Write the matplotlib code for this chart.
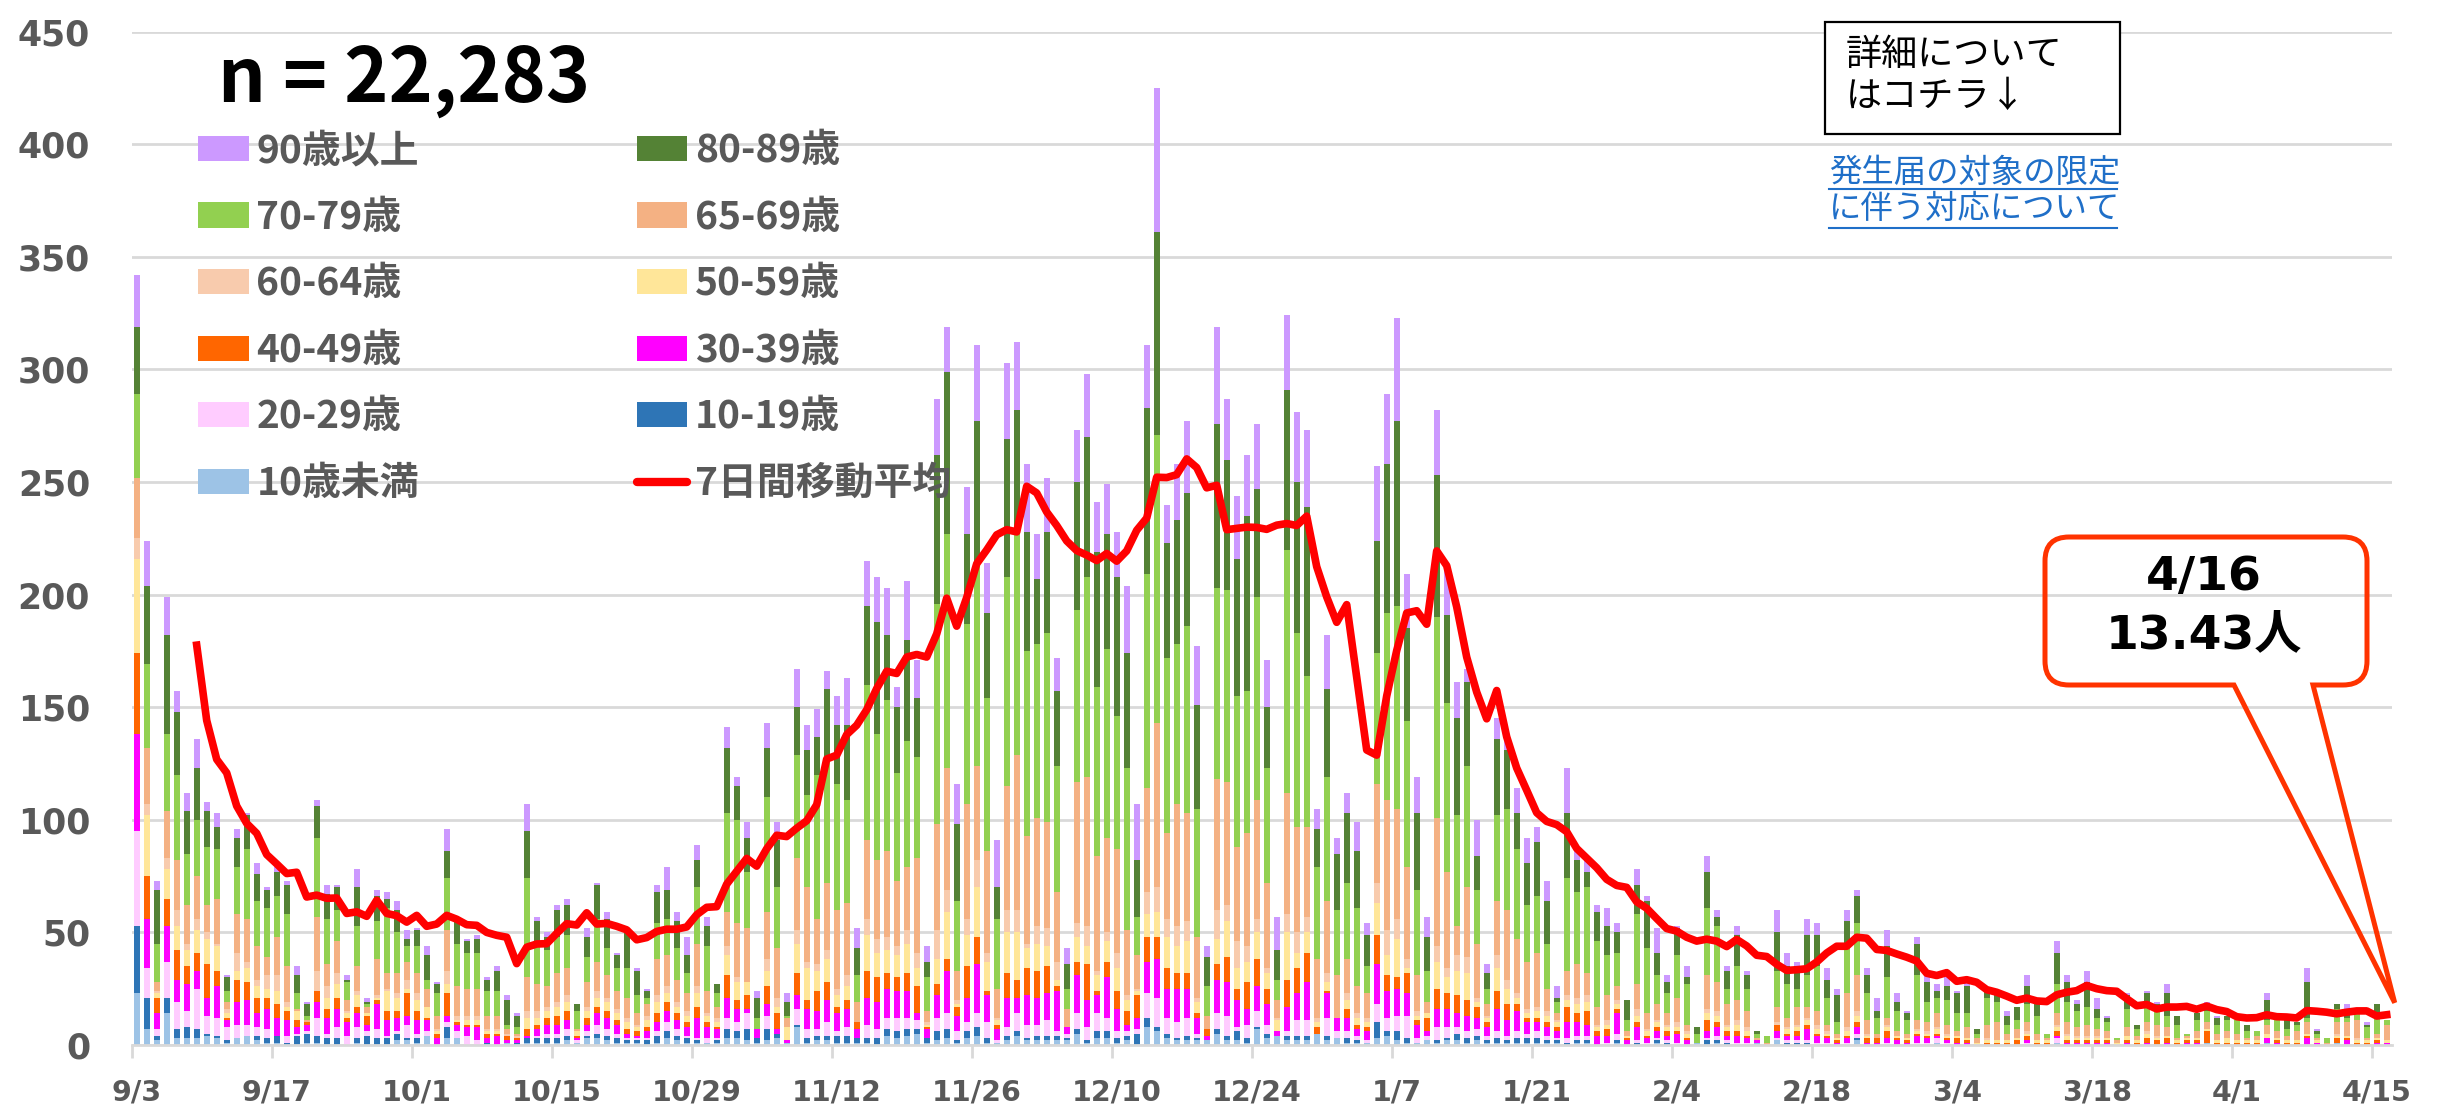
import numpy as np
import pandas as pd
import matplotlib
matplotlib.use("Agg")
import matplotlib.pyplot as plt
from matplotlib.patches import Patch, Rectangle, PathPatch
from matplotlib.lines import Line2D
from matplotlib.path import Path
from matplotlib.transforms import IdentityTransform
from matplotlib.font_manager import FontProperties

# 日付 (9/3 - 4/16)
dates = pd.date_range("2022-09-03", "2023-04-16", freq="D")

# 年代別の新規陽性者数
u10 = [23,7,2,14,3,3,3,4,3,1, 3,4,2,1,1,0,0,1,1,0, 0,0,1,0,0,0,2,2,1,4, 0,3,3,0,0,0,0,1,0,1,
       1,1,1,2,1,3,3,2,1,1, 1,0,1,3,2,1,1,1,1,3, 3,2,1,2,3,1,8,1,2,2, 1,1,1,1,0,4,3,4,5,1,
       2,3,1,3,4,1,1,2,4,2, 2,2,2,2,5,1,3,3,1,2, 0,8,6,3,2,2,2,2,5,2, 2,1,7,3,4,2,2,2,5,2,
       3,1,1,1,3,4,2,1,1,2, 1,2,2,1,2,1,1,1,1,1, 1,1,1,0,1,1,0,0,1,0, 0,0,1,0,0,0,1,0,1,0,
       0,0,1,0,2,0,0,0,0,0, 0,0,2,0,0,0,0,0,0,0, 1,0,0,0,0,0,0,0,0,0, 0,0,1,0,0,0,0,0,0,0,
       0,0,0,0,0,0,0,1,0,0, 0,0,0,1,0,0,0,0,0,0, 1,0,0,0,0,0]
a10 = [30,14,2,7,4,5,4,1,1,1, 0,0,2,2,3,1,4,4,3,3, 3,0,2,4,3,3,3,1,2,0, 0,5,0,0,0,1,0,0,1,2,
       2,2,2,2,0,1,2,2,2,1, 1,2,3,3,2,2,1,0,1,4, 3,5,2,5,2,0,1,2,2,2, 3,3,2,2,3,3,3,3,2,2,
       4,4,1,3,4,2,0,2,2,1, 2,2,2,1,2,1,3,3,2,2, 5,4,2,2,1,2,1,0,2,2, 4,2,1,2,0,2,2,2,0,2,
       0,2,1,0,7,2,4,2,0,0, 1,1,3,2,2,1,2,1,2,2, 2,1,1,1,1,1,0,0,1,0, 1,0,1,1,0,0,0,2,1,1,
       0,0,0,0,0,1,1,1,0,0, 0,0,1,0,0,0,0,0,0,0, 0,0,0,0,0,0,0,0,0,0, 0,0,0,0,0,0,0,0,0,0,
       0,0,0,0,0,0,0,0,0,0, 0,0,0,0,0,0,0,0,0,0, 0,0,0,0,0,0]
a20 = [42,13,3,16,12,7,18,8,8,6, 6,5,4,4,0,3,1,1,8,2, 5,4,5,2,4,1,1,6,2,2, 0,2,3,4,2,0,0,0,0,0,
       1,2,2,3,1,2,4,3,2,1, 1,1,2,4,3,1,1,2,1,5, 4,7,0,6,0,0,7,4,3,6, 2,4,0,6,4,5,6,5,4,0,
       6,7,4,4,6,7,1,4,8,6, 5,7,2,2,7,6,8,6,3,2, 2,11,13,7,7,8,2,0,7,9, 2,6,7,4,0,2,7,7,0,8,
       3,3,2,1,8,6,7,10,2,2, 6,5,3,3,3,2,3,2,3,2, 3,2,1,2,2,2,0,1,3,0, 1,1,1,1,1,0,0,1,2,1,
       1,1,0,0,1,1,1,1,1,1, 0,1,2,0,0,1,0,0,1,1, 2,1,0,0,0,0,0,0,0,1, 0,0,2,0,0,0,0,0,0,0,
       0,0,0,0,0,0,0,0,0,0, 0,0,0,0,0,0,0,0,0,0, 0,0,0,0,0,0]
a30 = [43,22,7,16,10,12,8,8,14,3, 10,11,6,9,8,7,3,3,7,7, 8,6,6,3,11,7,6,4,6,5, 3,3,3,4,6,2,4,1,1,1,
       3,4,4,4,1,3,5,5,4,2, 1,3,4,5,4,4,9,5,4,9, 6,2,4,5,2,1,6,9,8,10, 8,8,4,12,12,13,12,12,3,4,
       10,19,7,11,22,12,5,13,7,13, 12,12,18,3,17,12,8,18,10,3, 5,14,17,13,15,13,7,2,15,15, 12,7,11,9,2,11,12,17,0,11,
       6,6,3,4,18,12,12,10,6,2, 8,8,6,7,5,4,10,7,9,5, 4,4,3,7,6,5,4,3,9,2, 6,2,3,2,4,2,0,3,4,2,
       3,2,1,0,3,2,2,5,3,2, 1,2,3,1,1,2,2,1,3,2, 1,1,1,1,0,0,0,0,0,1, 0,0,1,1,1,1,1,1,0,1,
       0,1,0,1,0,1,1,0,0,0, 0,0,0,2,1,0,0,3,1,0, 0,2,0,0,1,1]
a40 = [36,19,7,12,13,8,8,15,7,1, 10,8,7,5,6,4,3,1,5,4, 5,2,3,4,2,4,3,10,4,1, 2,10,1,1,1,2,1,2,1,3,
       2,3,4,4,1,3,3,3,2,2, 2,2,4,4,3,2,5,2,1,10, 4,6,0,8,7,0,10,4,9,8, 3,4,3,12,11,7,6,8,12,1,
       5,5,4,14,12,2,2,11,8,12, 12,12,2,0,6,16,2,7,8,6, 10,11,10,9,7,7,2,3,7,11, 5,12,12,7,0,12,11,13,3,1,
       0,4,2,2,13,7,5,9,2,6, 9,7,8,7,5,2,8,7,3,2, 2,2,2,7,4,6,2,3,2,1, 2,1,2,2,1,1,0,5,2,2,
       2,1,0,0,3,1,2,2,1,1, 1,1,2,2,2,3,1,1,1,1, 1,1,2,1,0,1,1,1,2,2, 1,1,2,1,1,1,1,1,0,1,
       1,2,2,2,1,1,1,5,1,1, 1,1,1,0,1,1,1,1,0,0, 2,1,1,1,1,0]
a50 = [42,27,2,13,11,7,10,11,11,2, 4,6,5,4,6,2,4,0,0,5, 6,2,5,1,1,9,6,2,5,5, 1,4,1,2,2,1,1,0,0,5,
       3,3,4,4,2,3,4,4,3,3, 2,3,5,4,3,3,6,3,2,9, 8,6,0,7,3,6,13,14,9,10, 5,6,0,16,11,10,10,13,8,1,
       11,21,1,14,22,13,2,18,21,9, 12,9,3,0,11,8,7,9,10,5, 2,10,11,14,12,14,5,0,11,16, 9,9,12,7,5,21,7,9,2,4,
       0,4,3,2,14,9,17,2,2,2, 12,7,11,12,2,2,10,7,3,2, 3,3,2,3,4,4,2,2,2,1, 3,2,2,2,2,2,0,3,3,2,
       3,2,0,0,0,2,2,2,2,1, 1,2,3,1,0,2,1,1,1,1, 2,1,1,1,1,1,1,1,1,1, 1,1,2,2,1,1,1,1,1,2,
       1,2,1,1,1,1,1,1,1,2, 1,1,1,2,1,1,1,1,1,0, 1,1,1,1,1,1]
a60 = [9,5,1,5,7,3,5,3,1,2, 8,3,3,6,7,2,0,0,9,5, 5,1,2,0,1,1,2,4,3,0, 1,6,2,2,2,1,1,1,1,3,
       3,2,2,3,0,2,3,2,2,2, 1,2,3,3,2,2,3,1,2,4, 2,0,0,5,4,0,6,3,3,4, 3,5,0,7,6,6,4,6,7,1,
       13,10,2,7,12,4,1,10,10,2, 8,8,8,0,6,9,2,4,7,2, 1,10,11,8,9,9,2,0,13,7, 12,7,6,2,1,8,9,7,2,4,
       0,3,2,2,9,11,9,4,2,0, 7,4,7,7,2,1,6,4,2,2, 2,2,1,2,3,3,1,2,2,0, 3,1,1,1,2,1,0,2,2,1,
       2,2,0,0,1,1,1,1,2,1, 0,2,2,1,0,1,0,0,1,1, 1,1,0,0,0,1,0,0,0,1, 0,0,1,1,1,1,1,0,0,0,
       0,1,1,0,0,0,0,0,0,0, 0,0,0,0,0,0,0,0,0,0, 1,0,1,0,0,0]
a65 = [27,25,4,21,22,17,19,12,20,3, 17,19,15,8,17,16,1,1,24,10, 14,5,11,3,16,7,9,8,9,8, 6,18,13,12,12,6,6,2,1,15,
       12,9,13,12,1,11,13,10,8,9, 5,5,16,14,10,8,19,10,5,15, 24,24,0,21,22,4,32,33,20,30, 35,32,9,35,35,38,29,28,42,5,
       47,54,13,51,42,45,13,55,69,48, 48,47,31,8,63,66,51,42,46,29, 15,46,73,38,54,48,27,6,58,55, 42,50,53,38,8,54,47,40,26,32,
       19,15,12,11,44,58,49,41,16,5, 57,43,13,31,24,5,24,31,24,21, 24,10,3,11,15,10,8,11,6,2, 11,7,7,5,11,3,0,15,13,9,
       9,7,1,1,7,4,8,5,6,3, 2,15,16,6,2,3,2,2,4,4, 6,4,2,5,2,6,8,3,4,4, 3,1,5,5,4,5,3,3,1,4,
       2,4,5,4,1,1,3,3,3,3, 3,1,2,4,3,2,4,5,1,1, 5,6,8,1,2,7]
a70 = [37,37,17,34,38,23,25,26,22,5, 21,31,20,22,18,23,7,2,35,20, 14,8,18,1,17,29,18,7,12,4, 10,23,19,16,16,11,11,2,3,44,
       18,16,16,15,8,11,19,12,10,13, 8,3,16,16,14,9,25,20,6,44, 46,25,5,51,27,1,46,41,64,56, 56,46,12,69,56,67,48,56,45,15,
       98,104,31,80,89,68,31,93,98,82, 77,84,56,9,76,89,75,84,59,72, 17,95,128,78,71,83,57,13,85,85, 67,63,90,51,9,108,86,67,41,55,
       29,34,35,12,58,83,90,65,38,14, 89,75,49,54,24,7,38,45,40,25, 25,20,5,41,32,38,29,18,15,5, 31,29,13,9,19,18,4,30,25,7,
       15,10,2,3,16,15,8,14,20,12, 5,20,23,12,7,18,9,6,20,9, 7,11,8,6,2,12,9,4,4,8, 8,2,13,9,7,8,5,4,1,8,
       3,7,6,5,6,1,5,5,4,5, 6,3,2,2,6,3,3,2,2,2, 6,2,3,5,9,2]
a80 = [30,35,24,44,28,19,23,16,10,6, 13,15,12,8,11,13,8,5,14,11, 10,1,17,1,11,4,10,3,7,11, 4,12,10,5,6,5,9,11,5,21,
       10,6,12,13,3,9,15,13,6,17, 11,3,14,13,12,8,12,9,4,29, 15,15,9,22,21,6,21,20,17,30, 26,33,12,35,50,29,29,45,26,7,
       66,72,34,40,64,38,14,61,55,53, 29,45,33,11,57,62,60,51,62,51, 25,74,90,51,55,59,46,13,73,58, 61,78,48,27,13,71,67,75,17,39,
       25,31,25,14,50,66,82,41,34,15, 63,39,43,37,15,7,34,26,16,19, 24,19,2,29,14,7,13,13,9,9, 13,21,10,5,12,3,3,16,4,8,
       14,6,1,0,17,8,10,18,14,8, 12,12,12,8,3,14,4,3,14,9, 3,6,9,12,2,3,4,4,6,8, 5,0,14,9,3,11,4,2,0,6,
       2,6,3,10,4,0,3,3,3,2, 0,3,0,9,1,5,1,16,1,0, 2,4,2,1,4,0]
a90 = [23,20,4,17,9,8,13,4,6,1, 4,1,5,1,2,2,4,1,3,4, 1,2,8,2,3,3,4,4,1,4, 1,10,1,1,2,1,2,2,1,12,
       2,2,2,3,0,4,1,3,1,0, 1,1,3,10,4,8,7,4,0,9, 4,7,3,11,8,4,17,11,12,8, 13,21,9,20,20,21,9,26,17,7,
       25,20,18,21,34,22,21,34,30,30, 20,24,15,7,23,28,22,22,20,30, 25,28,64,17,25,32,26,5,43,27, 28,27,29,21,15,33,31,34,9,24,
       7,9,13,5,33,31,46,24,16,9, 29,20,16,6,16,4,9,7,11,11, 7,9,5,20,4,7,3,8,4,0, 7,2,11,3,1,5,0,7,3,2,
       4,2,0,0,10,6,2,7,5,5, 3,5,3,3,6,7,4,1,3,3, 3,4,1,2,0,1,0,2,0,5, 1,0,5,3,2,5,5,1,0,1,
       0,1,1,4,0,0,0,1,1,0, 0,0,0,3,0,0,0,6,1,0, 0,2,0,1,0,0]

groups = ["10歳未満", "10-19歳", "20-29歳", "30-39歳", "40-49歳", "50-59歳",
          "60-64歳", "65-69歳", "70-79歳", "80-89歳", "90歳以上"]
series = [u10, a10, a20, a30, a40, a50, a60, a65, a70, a80, a90]
colors = ["#9DC3E6", "#2E75B6", "#FFCCFF", "#FF00FF", "#FF6600", "#FFE699",
          "#F8CBAD", "#F4B183", "#92D050", "#548235", "#CC99FF"]

for s in series:
    assert len(s) == len(dates), len(s)

df = pd.DataFrame(dict(zip(groups, series)), index=dates)
total = df.sum(axis=1)
ma7 = total.rolling(7).mean()

W, H = 2438, 1114
fig = plt.figure(figsize=(W / 100, H / 100), dpi=100)
ax = fig.add_axes([131.7 / W, (H - 1045) / H, 2260 / W, (1045 - 31.7) / H])

x = np.arange(len(dates))
bottom = np.zeros(len(dates))
for g, c in zip(groups, colors):
    ax.bar(x, df[g].values, bottom=bottom, width=0.6, color=c, linewidth=0, zorder=2)
    bottom += df[g].values

ax.plot(x, ma7.values, color="#FF0000", lw=5.5, solid_joinstyle="round", zorder=4)

ax.set_xlim(-0.5, len(dates) - 0.5)
ax.set_ylim(0, 450)
ax.set_yticks(range(0, 451, 50))
ax.grid(axis="y", color="#D9D9D9", lw=2)
ax.set_axisbelow(True)

gray = "#595959"
for side in ["left", "right", "top"]:
    ax.spines[side].set_visible(False)
ax.spines["bottom"].set_color("#D9D9D9")
ax.spines["bottom"].set_linewidth(2)

lab_idx = list(range(0, len(dates), 14))
ax.set_xticks(lab_idx)
ax.set_xticklabels([f"{dates[i].month}/{dates[i].day}" for i in lab_idx])
ax.set_xticks([i - 0.5 for i in lab_idx], minor=True)
ax.tick_params(axis="x", which="major", length=0, pad=24, labelsize=20.5, labelcolor=gray)
ax.tick_params(axis="x", which="minor", length=9, width=2, color="#D9D9D9")
ax.tick_params(axis="y", length=0, pad=30, labelsize=25, labelcolor=gray)
for t in ax.get_xticklabels() + ax.get_yticklabels():
    t.set_fontweight("bold")
    t.set_family("DejaVu Sans")

# 凡例
handles = {g: Patch(facecolor=c, edgecolor="none") for g, c in zip(groups, colors)}
ma_handle = Line2D([], [], color="#FF0000", lw=6, solid_capstyle="round")
order1 = ["90歳以上", "70-79歳", "60-64歳", "40-49歳", "20-29歳", "10歳未満"]
order2 = ["80-89歳", "65-69歳", "50-59歳", "30-39歳", "10-19歳"]
leg_h = [handles[g] for g in order1] + [handles[g] for g in order2] + [ma_handle]
leg_l = order1 + order2 + ["7日間移動平均"]
lp = FontProperties(family=["Noto Sans CJK JP", "DejaVu Sans"], weight="bold", size=28)
leg = ax.legend(leg_h, leg_l, ncol=2, loc="upper left", bbox_to_anchor=(198 / W, 1 - 131 / H),
                bbox_transform=fig.transFigure, frameon=False, prop=lp, labelcolor=gray,
                handlelength=1.3, handleheight=0.62, handletextpad=0.2, labelspacing=0.71,
                columnspacing=5.6, borderpad=0, borderaxespad=0)
leg.set_zorder(5)

jp = ["Noto Sans CJK JP", "DejaVu Sans"]
fig.text(218 / W, 1 - 80 / H, "n = 22,283", family=jp, weight="bold", size=54,
         color="black", ha="left", va="center")

# 右上の案内
fig.add_artist(Rectangle((1825, H - 134), 295, 112, transform=IdentityTransform(),
                         facecolor="white", edgecolor="black", lw=1.6, zorder=6))
fig.text(1846 / W, 1 - 76 / H, "詳細について\nはコチラ↓", family=jp, size=26,
         color="black", ha="left", va="center", linespacing=1.2, zorder=7)
link = "#1F6FC8"
fig.text(1829 / W, 1 - 191 / H, "発生届の対象の限定\nに伴う対応について", family=jp, size=23.3,
         color=link, ha="left", va="center", linespacing=1.15)
for yy in (189, 228):
    fig.add_artist(Line2D([1829, 2117], [H - yy, H - yy], transform=IdentityTransform(),
                          color=link, lw=1.5))

# 吹き出し
fig.canvas.draw()
tx, ty = ax.transData.transform((x[-1], ma7.values[-1]))
tip = (tx + 8, ty + 12)
x0, x1, yt, yb, r = 2045, 2367, H - 537, H - 685, 24
verts = [(x0 + r, yt), (x1 - r, yt), (x1, yt), (x1, yt - r), (x1, yb + r), (x1, yb), (x1 - r, yb),
         (2313, yb), tip, (2234, yb), (x0 + r, yb), (x0, yb), (x0, yb + r), (x0, yt - r),
         (x0, yt), (x0 + r, yt), (x0 + r, yt)]
codes = [Path.MOVETO, Path.LINETO, Path.CURVE3, Path.CURVE3, Path.LINETO, Path.CURVE3, Path.CURVE3,
         Path.LINETO, Path.LINETO, Path.LINETO, Path.LINETO, Path.CURVE3, Path.CURVE3, Path.LINETO,
         Path.CURVE3, Path.CURVE3, Path.CLOSEPOLY]
fig.add_artist(PathPatch(Path(verts, codes), transform=IdentityTransform(), facecolor="none",
                         edgecolor="#FF3300", lw=3.6, joinstyle="miter", zorder=6))
last = dates[-1]
fig.text(2204 / W, 1 - 577 / H, f"{last.month}/{last.day}", family=["DejaVu Sans", "Noto Sans CJK JP"],
         weight="bold", size=34, ha="center", va="center", zorder=7)
fig.text(2204 / W, 1 - 636 / H, f"{ma7.values[-1]:.2f}人", family=["DejaVu Sans", "Noto Sans CJK JP"],
         weight="bold", size=34, ha="center", va="center", zorder=7)

fig.savefig("out.png", dpi=100)
